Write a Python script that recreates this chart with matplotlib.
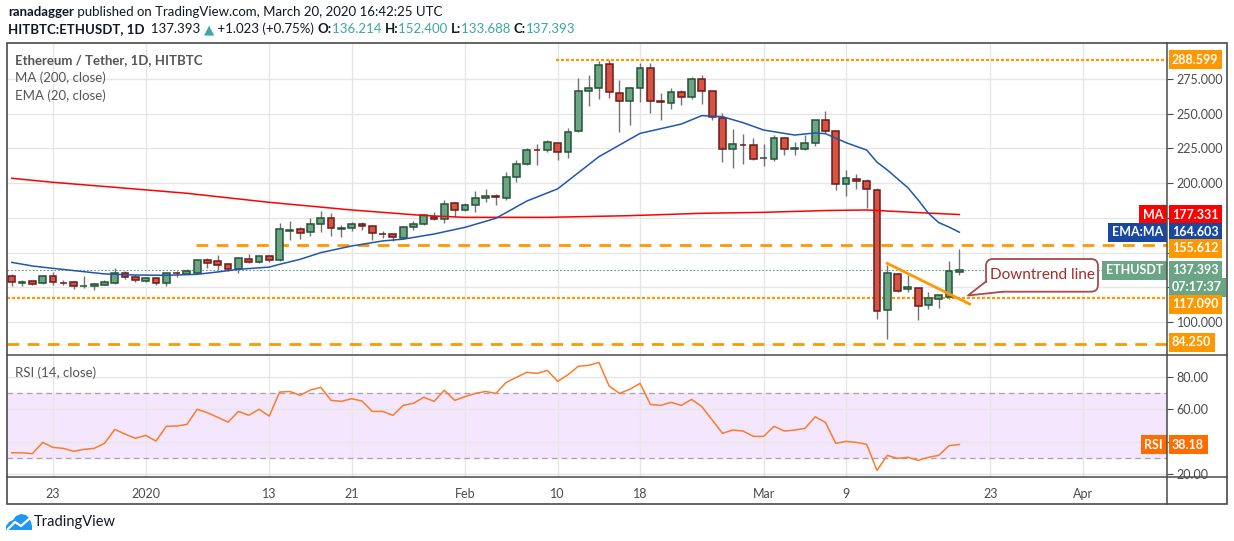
import numpy as np
import pandas as pd
import matplotlib
matplotlib.use('Agg')
import matplotlib.pyplot as plt
import matplotlib.dates as mdates
from matplotlib.patches import Rectangle, FancyBboxPatch, Polygon

plt.rcParams['font.family'] = ['Lato', 'DejaVu Sans']
plt.rcParams['lines.scale_dashes'] = False

W, H = 1234, 541

# daily candles, HITBTC ETH/USDT, 2019-12-19 .. 2020-03-20
dates = pd.date_range('2019-12-19', '2020-03-20', freq='D')
opens = [133.3, 128.3, 129.3, 127.8, 132.9, 128.4, 128.5, 125.9, 126.1, 126.9,
         128.3, 135.0, 132.4, 129.7, 131.4, 127.8, 135.1, 134.8, 135.5, 144.6,
         143.7, 141.5, 138.4, 145.1, 142.9, 147.2, 144.4, 165.7, 166.7, 164.5,
         170.3, 174.6, 167.2, 167.4, 170.3, 168.8, 163.5, 163.1, 160.7, 168.1,
         170.8, 175.9, 173.9, 185.4, 180.3, 183.9, 189.0, 190.3, 189.0, 204.1,
         213.4, 223.9, 223.5, 228.5, 222.5, 237.2, 265.9, 268.1, 285.4, 264.5,
         258.7, 268.1, 282.5, 258.7, 257.3, 265.2, 261.6, 274.6, 265.9, 246.5,
         224.2, 227.5, 227.1, 217.7, 217.5, 232.1, 224.5, 224.2, 228.5, 245.1,
         237.2, 199.3, 203.1, 201.2, 194.7, 108.4, 134.3, 123.5, 124.2, 112.0,
         116.3, 118.2, 136.214]
highs = [134.5, 130.0, 129.7, 133.6, 136.0, 130.0, 129.3, 133.1, 128.3, 130.0,
         138.9, 136.5, 134.1, 132.6, 131.6, 135.5, 136.5, 138.4, 145.3, 146.1,
         148.0, 142.2, 146.1, 148.9, 147.5, 148.0, 171.5, 172.7, 168.3, 174.8,
         180.1, 178.7, 169.8, 171.7, 171.7, 169.0, 165.5, 163.5, 169.1, 172.7,
         177.0, 179.4, 187.8, 186.3, 185.4, 194.2, 195.7, 192.1, 207.9, 216.5,
         224.9, 228.1, 230.9, 228.8, 239.6, 275.5, 277.7, 287.5, 288.6, 274.1,
         268.8, 286.6, 286.6, 265.0, 268.3, 266.9, 276.5, 277.7, 266.4, 250.6,
         238.9, 235.3, 232.6, 228.1, 234.3, 232.9, 229.5, 234.3, 245.6, 251.8,
         237.5, 209.1, 206.5, 203.1, 196.2, 141.0, 135.0, 133.8, 124.7, 121.3,
         119.5, 143.9, 152.4]
lows = [125.9, 126.1, 126.9, 127.3, 126.9, 126.9, 124.0, 124.7, 123.3, 126.4,
        127.6, 130.7, 129.0, 129.0, 126.9, 125.9, 132.6, 134.5, 135.0, 139.1,
        137.2, 136.9, 135.5, 142.5, 142.2, 143.4, 143.7, 159.0, 159.5, 162.1,
        165.0, 162.1, 161.4, 165.7, 166.4, 159.0, 160.7, 158.3, 159.5, 166.2,
        170.0, 173.4, 171.5, 175.8, 179.6, 179.4, 186.6, 184.4, 187.8, 200.7,
        213.0, 213.2, 222.5, 216.5, 218.2, 236.5, 255.6, 260.4, 261.4, 236.9,
        242.0, 258.5, 250.6, 245.6, 253.5, 256.1, 260.4, 256.8, 245.3, 215.3,
        210.5, 213.9, 216.5, 212.5, 216.1, 220.1, 220.1, 223.5, 226.9, 236.0,
        195.0, 190.9, 195.4, 181.8, 101.9, 87.8, 121.3, 121.3, 101.7, 109.6,
        110.3, 116.3, 133.688]
closes = [129.0, 128.6, 127.6, 132.9, 128.5, 128.1, 125.7, 126.2, 127.3, 128.8,
          135.0, 132.1, 130.0, 131.6, 127.8, 135.0, 134.9, 136.5, 144.6, 142.7,
          141.3, 138.4, 145.8, 142.9, 147.2, 144.4, 166.7, 166.4, 164.3, 170.3,
          174.6, 167.4, 167.6, 170.3, 168.8, 163.8, 163.2, 160.9, 168.1, 170.3,
          176.7, 173.9, 184.9, 180.3, 183.9, 189.0, 190.6, 190.0, 204.1, 213.4,
          223.5, 223.6, 229.3, 222.5, 236.4, 265.9, 268.1, 284.6, 265.2, 258.7,
          268.1, 282.5, 258.7, 258.3, 265.2, 261.6, 274.6, 265.9, 247.2, 224.2,
          227.8, 227.1, 217.5, 218.0, 232.1, 224.2, 224.9, 228.5, 245.1, 237.2,
          199.1, 203.4, 201.2, 195.4, 107.9, 135.0, 122.5, 124.9, 111.3, 117.0,
          119.2, 136.4, 137.393]
rsi = [33.1, 33.1, 32.5, 39.5, 36.4, 35.8, 34.0, 35.2, 35.8, 38.9,
       47.5, 44.6, 42.0, 43.8, 40.3, 49.4, 49.6, 50.6, 59.9, 57.8,
       54.9, 52.0, 58.6, 56.2, 59.9, 55.7, 70.5, 70.9, 68.5, 71.8,
       73.4, 65.4, 64.8, 66.4, 65.0, 58.6, 58.6, 56.2, 62.3, 63.6,
       67.3, 64.8, 71.6, 65.4, 67.7, 69.7, 70.9, 69.7, 76.5, 79.6,
       82.7, 82.0, 83.9, 77.1, 81.2, 86.4, 87.0, 88.8, 74.2, 69.7,
       72.2, 75.9, 62.9, 62.3, 64.2, 62.3, 66.0, 61.5, 53.3, 45.1,
       47.1, 46.5, 43.2, 43.2, 49.4, 46.5, 47.1, 48.1, 55.3, 51.8,
       38.9, 40.1, 39.5, 38.3, 22.2, 31.5, 29.6, 30.3, 28.4, 30.3,
       31.5, 37.5, 38.18]

# moving averages (days after 2019-12-23)
ema_day = [-4, -2, 0, 3, 5, 8, 11, 14, 16, 18, 21, 22, 24, 26, 29, 32, 34, 37, 40, 43,
           46, 49, 53, 57, 61, 63, 65, 67, 69, 72, 74, 75, 77, 79, 80, 81, 82, 83, 84, 85,
           86, 87, 88]
ema_val = [142.9, 140.3, 138.6, 136.2, 134.6, 133.8, 133.6, 134.3, 136.0, 137.9, 139.5,
           141.5, 145.1, 149.9, 154.7, 158.3, 159.6, 163.3, 168.1, 174.6, 187.0, 195.8,
           218.9, 235.7, 242.4, 248.5, 247.7, 243.4, 238.1, 234.5, 236.0, 235.5, 229.0,
           223.7, 215.0, 209.4, 203.0, 196.6, 187.8, 178.2, 171.5, 168.3, 164.603]
ma_day = [-4, 0, 6, 13, 21, 29, 36, 40, 48, 56, 63, 69, 75, 79, 84, 88]
ma_val = [203.4, 200.5, 196.9, 192.6, 186.1, 180.6, 176.6, 175.3, 175.3, 176.5, 178.2,
          178.9, 180.2, 180.6, 178.7, 177.331]

levels = {'top': 288.599, 'res': 155.612, 'sup': 117.090, 'low': 84.250}
last_price = 137.393
trend_x = ['2020-03-13', '2020-03-21']
trend_y = [142.2, 112.9]

tick_dates = ['2019-12-23', '2020-01-01', '2020-01-13', '2020-01-21', '2020-02-01',
              '2020-02-10', '2020-02-18', '2020-03-01', '2020-03-09', '2020-03-23',
              '2020-04-01']
tick_labels = ['23', '2020', '13', '21', 'Feb', '10', '18', 'Mar', '9', '23', 'Apr']
price_ticks = [100, 125, 150, 175, 200, 225, 250, 275]

UP, UP_EDGE = '#6ba583', '#225437'
DN, DN_EDGE = '#d75442', '#6b1a1a'
ORANGE = '#ff9800'
GRID = '#e6e6e6'
TXT = '#4a4a4a'

fig = plt.figure(figsize=(W / 100, H / 100), dpi=100)


def px_box(l, t, r, b):
    return [l / W, 1 - b / H, (r - l) / W, (b - t) / H]


ax = fig.add_axes(px_box(7, 43, 1167, 355))
rax = fig.add_axes(px_box(7, 355, 1167, 477), sharex=ax)

x0 = mdates.date2num(pd.Timestamp('2019-12-23'))
xs = mdates.date2num(dates)
ax.set_xlim(x0 - 4.466, x0 + 108.16)
ax.set_ylim(76.26, 300.72)
rax.set_ylim(18.15, 93.37)

# grid
tk = mdates.date2num(pd.to_datetime(tick_dates))
for a in (ax, rax):
    a.set_xticks(tk)
    a.grid(True, color=GRID, lw=1)
    a.set_axisbelow(True)
    for s in a.spines.values():
        s.set_visible(False)
ax.tick_params(axis='x', length=0, labelbottom=False)
rax.set_xticks(tk, tick_labels)
rax.tick_params(axis='x', length=0, pad=8, labelsize=9, labelcolor=TXT)

ax.yaxis.tick_right()
ax.set_yticks(price_ticks, ['100.000', '', '', '', '200.000', '225.000', '250.000', '275.000'])
ax.tick_params(axis='y', direction='out', length=4, color=TXT, labelcolor=TXT, labelsize=9, pad=3)
rax.yaxis.tick_right()
rax.set_yticks([20, 40, 60, 80], ['20.00', '', '60.00', '80.00'])
rax.tick_params(axis='y', direction='out', length=4, color=TXT, labelcolor=TXT, labelsize=9, pad=3)

# candles
o, h, l, c = map(np.array, (opens, highs, lows, closes))
up = c >= o
ax.vlines(xs, l, h, color='#737375', lw=1, zorder=2)
body = np.where(np.abs(c - o) < 0.3, 0.3, c - o)
ax.bar(xs[up], body[up], bottom=o[up], width=0.66, color=UP, edgecolor=UP_EDGE, lw=1.1, zorder=3)
ax.bar(xs[~up], body[~up], bottom=o[~up], width=0.66, color=DN, edgecolor=DN_EDGE, lw=1.1, zorder=3)

# averages
ax.plot(x0 + np.array(ma_day), ma_val, color='#ff0000', lw=1.1, zorder=4)
ax.plot(x0 + np.array(ema_day), ema_val, color='#2155b0', lw=1.1, zorder=4)

# horizontal levels
xl = ax.get_xlim()
ax.hlines(levels['top'], x0 + 48.8, xl[1], color=ORANGE, lw=1.6, linestyles=[(0, (2.2, 1.4))], zorder=2)
ax.hlines(levels['res'], x0 + 13.9, xl[1], color=ORANGE, lw=2, linestyles=[(0, (8.5, 6))], zorder=2)
ax.hlines(levels['sup'], xl[0], xl[1], color=ORANGE, lw=1.6, linestyles=[(0, (2.2, 1.4))], zorder=2)
ax.hlines(levels['low'], xl[0], xl[1], color=ORANGE, lw=2, linestyles=[(0, (8.5, 6))], zorder=2)
ax.hlines(last_price, xl[0], xl[1], color='#5f9e7f', lw=0.8, linestyles=[(0, (1.2, 1.4))], zorder=2)
ax.plot(mdates.date2num(pd.to_datetime(trend_x)), trend_y, color=ORANGE, lw=2, zorder=5)

# RSI pane
rax.axhspan(30, 70, color='#f3e6fd', zorder=0)
rax.axhline(70, color='#a8a0ac', lw=0.9, ls=(0, (4, 3)), zorder=1)
rax.axhline(30, color='#a8a0ac', lw=0.9, ls=(0, (4, 3)), zorder=1)
rax.plot(xs, rsi, color='#fb7c2a', lw=1.1, zorder=3)


# price-scale tags
def tag(a, val, text, color, name=None, nudge=0, dy_extra=0):
    a.annotate(text, xy=(1, val), xycoords=('axes fraction', 'data'),
               xytext=(5, -nudge), textcoords='offset pixels', ha='left', va='center',
               color='white', fontsize=9, fontweight='bold', annotation_clip=False, zorder=10,
               bbox=dict(boxstyle='square,pad=0.28', fc=color, ec='none'))
    if name:
        a.annotate(name, xy=(1, val), xycoords=('axes fraction', 'data'),
                   xytext=(-4, -nudge), textcoords='offset pixels', ha='right', va='center',
                   color='white', fontsize=9, fontweight='bold', annotation_clip=False, zorder=10,
                   bbox=dict(boxstyle='square,pad=0.28', fc=color, ec='none'))


tag(ax, levels['top'], '288.599', ORANGE)
tag(ax, ma_val[-1], '177.331', '#ff0000', 'MA')
tag(ax, ema_val[-1], '164.603', '#1848a0', 'EMA:MA')
tag(ax, levels['res'], '155.612', ORANGE, nudge=3.5)
tag(ax, last_price, '137.393', '#6aa585', 'ETHUSDT')
tag(ax, last_price, '07:17:37', '#6aa585', nudge=17)
tag(ax, levels['sup'], '117.090', ORANGE, nudge=6)
tag(ax, levels['low'], '84.250', ORANGE, nudge=-1.5)
tag(rax, rsi[-1], '38.18', '#ff6d00', 'RSI')

# overlay in pixel coordinates for frame and texts
ov = fig.add_axes([0, 0, 1, 1], zorder=20)
ov.set_xlim(0, W)
ov.set_ylim(H, 0)
ov.axis('off')

ov.add_patch(Rectangle((7, 43), 1220, 461, fill=False, ec='#4a4a4a', lw=1.2))
ov.plot([7, 1227], [355, 355], color='#4a4a4a', lw=1.1)
ov.plot([7, 1227], [477, 477], color='#4a4a4a', lw=1.1)
ov.plot([1167, 1167], [43, 504], color='#4a4a4a', lw=1.1)

r = fig.canvas.get_renderer()


def run(x, y, pieces, size):
    for txt, color, weight in pieces:
        t = ov.text(x, y, txt, color=color, fontsize=size, fontweight=weight, va='center', ha='left')
        x += t.get_window_extent(renderer=r).width


DARK = '#131722'
TEAL = '#3aa99f'
run(8, 12, [('ranadagger', DARK, 'bold'),
            (' published on TradingView.com, March 20, 2020 16:42:25 UTC', DARK, 'normal')], 9.5)
run(8, 29, [('HITBTC:ETHUSDT, 1D', DARK, 'bold'), ('  137.393 ', DARK, 'normal'),
            ('▲', TEAL, 'normal'), (' +1.023 (+0.75%) ', DARK, 'normal'),
            ('O:', DARK, 'bold'), ('136.214 ', TEAL, 'normal'),
            ('H:', DARK, 'bold'), ('152.400 ', TEAL, 'normal'),
            ('L:', DARK, 'bold'), ('133.688 ', TEAL, 'normal'),
            ('C:', DARK, 'bold'), ('137.393', TEAL, 'normal')], 9.5)

ov.text(15, 60, 'Ethereum / Tether, 1D, HITBTC', color='#555555', fontsize=9.5,
        fontweight='bold', va='center')
ov.text(15, 78, 'MA (200, close)', color='#555555', fontsize=9.5, va='center')
ov.text(15, 96, 'EMA (20, close)', color='#555555', fontsize=9.5, va='center')
ov.text(15, 373, 'RSI (14, close)', color='#555555', fontsize=9.5, va='center')

# callout
ov.add_patch(FancyBboxPatch((986, 259), 112, 32.7, boxstyle='round,pad=0,rounding_size=7',
                            ec='#a84b4b', fc='white', lw=1.3))
ov.add_patch(Polygon([(985.5, 281), (968, 295.5), (1003, 292.5), (1003, 283), (985.5, 283)],
                     closed=True, fc='white', ec='none'))
ov.plot([986, 968, 1003], [281.5, 295.5, 291.7], color='#a84b4b', lw=1.3)
ov.text(1042, 275, 'Downtrend line', color='#a52a2a', fontsize=11, ha='center', va='center')

# logo
ov.add_patch(Polygon([(6, 530), (6, 526), (9, 522), (13, 520), (16, 516), (21, 514), (26, 515),
                      (29, 518), (31, 522), (32, 526), (32, 530)], closed=True, fc='#2196f3', ec='none'))
ov.plot([8, 15, 21, 29], [529, 522, 526, 519], color='white', lw=1.6)
ov.text(34, 522, 'TradingView', color=DARK, fontsize=10.5, va='center')

fig.savefig('out.png', dpi=100, facecolor='white')
